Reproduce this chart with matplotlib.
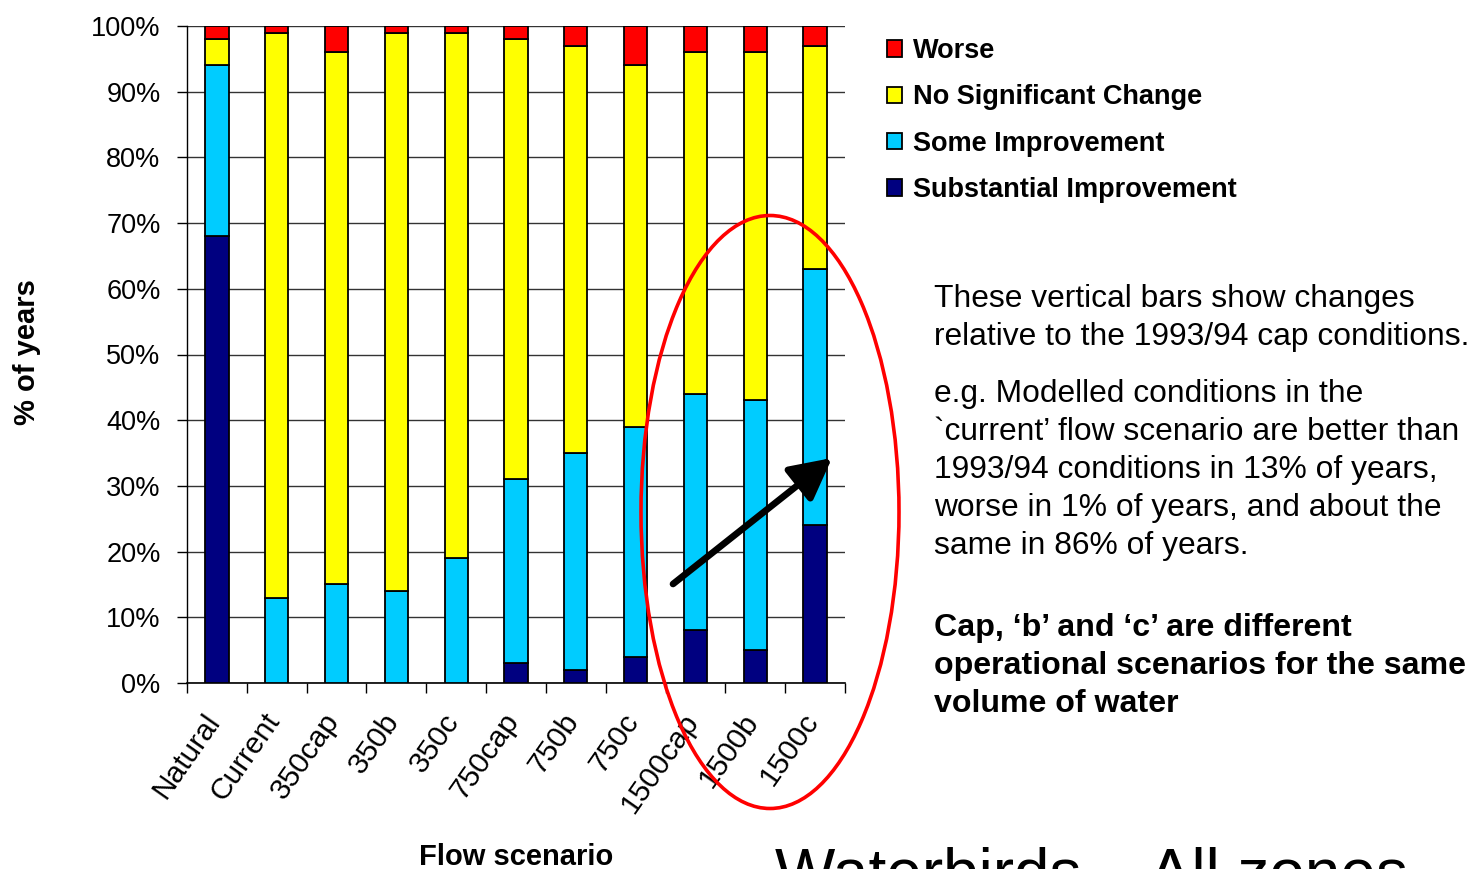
import matplotlib
matplotlib.use("Agg")
import matplotlib.pyplot as plt
import matplotlib.transforms as mtransforms
import numpy as np
from matplotlib.patches import Ellipse, FancyArrowPatch, Patch
from matplotlib.ticker import FixedLocator

plt.rcParams["font.family"] = ["Liberation Sans", "DejaVu Sans"]

scenarios = ["Natural", "Current", "350cap", "350b", "350c", "750cap",
             "750b", "750c", "1500cap", "1500b", "1500c"]
substantial = [68, 0, 0, 0, 0, 3, 2, 4, 8, 5, 24]
some = [26, 13, 15, 14, 19, 28, 33, 35, 36, 38, 39]
no_change = [4, 86, 81, 85, 80, 67, 62, 55, 52, 53, 34]
worse = [2, 1, 4, 1, 1, 2, 3, 6, 4, 4, 3]

series_names = ["Substantial Improvement", "Some Improvement",
                "No Significant Change", "Worse"]
series_colors = ["#000080", "#00CCFF", "#FFFF00", "#FF0000"]
y_ticks = list(range(0, 101, 10))
y_tick_labels = [f"{v}%" for v in y_ticks]

W, H = 1470, 869
fig = plt.figure(figsize=(W / 100, H / 100), dpi=100)
ax = fig.add_axes([187 / W, (H - 683) / H, (845 - 187) / W, (683 - 26) / H])

x = np.arange(len(scenarios))
bottom = np.zeros(len(scenarios))
for vals, name, col in zip([substantial, some, no_change, worse],
                           series_names, series_colors):
    ax.bar(x, vals, width=0.39, bottom=bottom, color=col,
           edgecolor="black", linewidth=1.3, label=name, zorder=3)
    bottom += np.array(vals)

ax.set_xlim(-0.5, len(scenarios) - 0.5)
ax.set_ylim(0, 100)
ax.set_yticks(y_ticks)
ax.set_yticklabels(y_tick_labels, fontsize=19.5)
ax.tick_params(axis="y", direction="out", length=7, width=1, pad=12,
               colors="black")
ax.set_xticks(x)
ax.set_xticklabels(scenarios, fontsize=21.5, rotation=55, ha="right",
                   va="top", rotation_mode="anchor")
ax.tick_params(axis="x", which="major", length=0, pad=18)
label_shift = mtransforms.ScaledTranslation(-14 / 100, 0, fig.dpi_scale_trans)
for lbl in ax.get_xticklabels():
    lbl.set_transform(lbl.get_transform() + label_shift)
ax.xaxis.set_minor_locator(FixedLocator(np.arange(-0.5, len(scenarios), 1.0)))
ax.tick_params(axis="x", which="minor", direction="out", length=7, width=1)

ax.grid(axis="y", color="#333333", linewidth=1, zorder=0)
ax.set_axisbelow(True)
for side in ["top", "right"]:
    ax.spines[side].set_visible(False)
ax.spines["left"].set_linewidth(1)
ax.spines["bottom"].set_linewidth(1.2)

fig.text(27 / W, 1 - 352 / H, "% of years", rotation=90, ha="center",
         va="center", fontsize=21, fontweight="bold")
fig.text(516 / W, 1 - 865 / H, "Flow scenario", ha="center",
         va="baseline", fontsize=21, fontweight="bold")

handles = [Patch(facecolor=c, edgecolor="black", linewidth=1.3)
           for c in series_colors][::-1]
fig.legend(handles, series_names[::-1], loc="upper left",
           bbox_to_anchor=(887 / W, 1 - 38 / H), frameon=False,
           prop={"size": 19.5, "weight": "bold"}, handlelength=0.55,
           handleheight=0.55, handletextpad=0.4, labelspacing=0.75,
           borderpad=0, borderaxespad=0)

step = 38
para1 = ["These vertical bars show changes",
         "relative to the 1993/94 cap conditions."]
para2 = ["e.g. Modelled conditions in the",
         "`current\u2019 flow scenario are better than",
         "1993/94 conditions in 13% of years,",
         "worse in 1% of years, and about the",
         "same in 86% of years."]
para3 = ["Cap, \u2018b\u2019 and \u2018c\u2019 are different",
         "operational scenarios for the same",
         "volume of water"]
for lines, y0, weight, size in [(para1, 307, "normal", 22.9),
                                (para2, 402, "normal", 22.9),
                                (para3, 636, "bold", 23.1)]:
    for i, line in enumerate(lines):
        fig.text(934 / W, 1 - (y0 + i * step) / H, line, fontsize=size,
                 fontweight=weight, ha="left", va="baseline")

fig.text(775 / W, 1 - 894 / H, "Waterbirds \u2013 All zones", fontsize=46,
         ha="left", va="baseline")

ell = Ellipse((770 / W, 1 - 512 / H), 258 / W, 593 / H,
              transform=fig.transFigure, fill=False, edgecolor="#FF0000",
              linewidth=2.6, zorder=10)
fig.add_artist(ell)

arrow = FancyArrowPatch((673 / W, 1 - 584 / H), (832 / W, 1 - 458 / H),
                        transform=fig.transFigure,
                        arrowstyle="-|>,head_length=0.5,head_width=0.26",
                        mutation_scale=50, linewidth=4.8, color="black",
                        shrinkA=0, shrinkB=0, zorder=11)
fig.add_artist(arrow)

fig.savefig("out.png", dpi=100)
